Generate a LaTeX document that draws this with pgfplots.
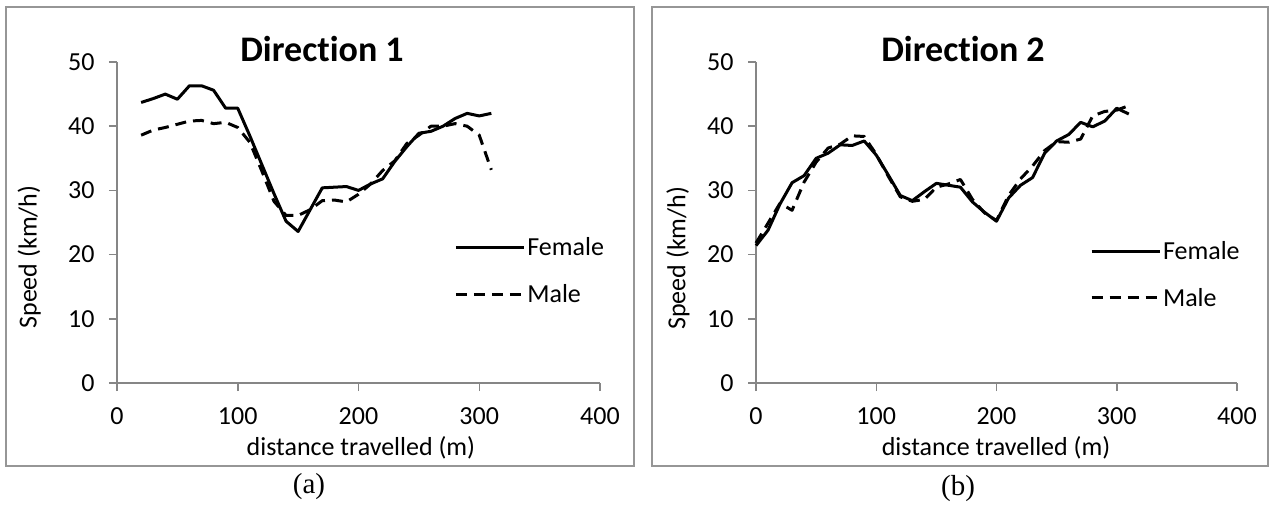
\documentclass[border=0pt]{standalone}
\usepackage{fontspec}
\setmainfont{Carlito}[Ligatures=CommonOff]
\newfontfamily\capfont{Liberation Serif}
\usepackage{pgfplots}
\pgfplotsset{compat=1.18}

\definecolor{axgray}{RGB}{134,134,134}
\definecolor{framegray}{RGB}{150,150,150}

\newcommand\chartfont{\fontsize{26}{31}\selectfont}

\pgfplotsset{speedaxis/.style={
    scale only axis, height=321pt,
    xmin=0, xmax=400, ymin=0, ymax=50,
    axis x line=bottom, axis y line=left,
    axis line style={-, axgray, line width=1.5pt},
    xtick={0,100,...,400}, ytick={0,10,...,50},
    tick align=outside, major tick length=8pt,
    tick style={axgray, line width=1.5pt},
    tick label style={font=\chartfont, black},
    xticklabel={\chartfont\pgfmathprintnumber{\tick}},
    yticklabel={\chartfont\pgfmathprintnumber{\tick}},
    xticklabel style={yshift=-13pt},
    yticklabel style={xshift=-11pt},
    /pgf/number format/assume math mode=true,
    label style={font=\chartfont},
    xlabel={distance travelled (m)},
    ylabel={Speed (km/h)},
    legend style={draw=none, fill=none, font=\chartfont,
      anchor=west, row sep=23pt, inner sep=0pt},
    legend cell align=left,
    legend image code/.code={\draw[#1] (0pt,0pt) -- (68pt,0pt);},
    clip=false,
  },
  fem/.style={black, line width=3pt, line join=round, no markers},
  mal/.style={black, line width=3pt, line join=round, no markers, dash pattern=on 11pt off 7pt},
}

\begin{document}
\begin{tikzpicture}
% panel frames
\draw[framegray, line width=2pt] (6pt,497pt) rectangle (634pt,38pt);
\draw[framegray, line width=2pt] (652pt,497pt) rectangle (1268pt,38pt);

% Direction 1
\begin{axis}[speedaxis, width=483pt, at={(117pt,121pt)}, anchor=south west,
    xlabel style={at={(axis description cs:0.505,-0.2025)}, anchor=center},
    ylabel style={at={(axis description cs:-0.182,0.3925)}, anchor=center},
    legend style={at={(0.698,0.349)}}]
  \addplot[fem] coordinates {
    (20,43.7) (30,44.3) (40,45.0) (50,44.2) (60,46.3) (70,46.3) (80,45.6)
    (90,42.8) (100,42.8) (110,38.5) (120,34.0) (130,29.5) (140,25.2) (150,23.6)
    (160,27.0) (170,30.4) (180,30.5) (190,30.6) (200,30.0) (210,31.0) (220,31.8)
    (230,34.5) (240,36.8) (250,38.9) (260,39.2) (270,40.0) (280,41.2) (290,42.0)
    (300,41.6) (310,42.0)};
  \addlegendentry{Female}
  \addplot[mal] coordinates {
    (20,38.6) (30,39.4) (40,39.8) (50,40.3) (60,40.8) (70,40.9) (80,40.4)
    (90,40.6) (100,39.8) (110,37.5) (120,33.0) (130,28.3) (140,26.1) (150,26.1)
    (160,27.0) (170,28.4) (180,28.5) (190,28.2) (200,29.4) (210,31.0) (220,33.1)
    (230,34.6) (240,37.3) (250,38.6) (260,40.0) (270,40.0) (280,40.4) (290,40.0)
    (300,38.6) (310,33.2)};
  \addlegendentry{Male}
\end{axis}

% Direction 2
\begin{axis}[speedaxis, width=481pt, at={(756pt,121pt)}, anchor=south west,
    xlabel style={at={(axis description cs:0.499,-0.2025)}, anchor=center},
    ylabel style={at={(axis description cs:-0.162,0.3885)}, anchor=center},
    legend style={at={(0.694,0.338)}}]
  \addplot[fem] coordinates {
    (0,21.4) (10,23.8) (20,27.9) (30,31.2) (40,32.3) (50,35.0) (60,35.8)
    (70,37.1) (80,37.0) (90,37.7) (100,35.5) (110,32.4) (120,29.2) (130,28.4)
    (140,29.8) (150,31.1) (160,30.8) (170,30.5) (180,28.2) (190,26.6) (200,25.2)
    (210,28.8) (220,30.8) (230,32.0) (240,35.8) (250,37.7) (260,38.7) (270,40.6)
    (280,39.9) (290,40.8) (300,42.8) (310,41.9)};
  \addlegendentry{Female}
  \addplot[mal] coordinates {
    (0,21.8) (10,24.9) (20,28.0) (30,26.9) (40,31.3) (50,34.4) (60,36.6)
    (70,37.2) (80,38.5) (90,38.4) (100,35.6) (110,32.2) (120,29.0) (130,28.3)
    (140,28.6) (150,30.5) (160,31.0) (170,31.7) (180,28.6) (190,26.5) (200,25.3)
    (210,29.2) (220,31.8) (230,33.8) (240,36.2) (250,37.6) (260,37.5) (270,38.0)
    (280,41.6) (290,42.3) (300,42.5) (310,43.2)};
  \addlegendentry{Male}
\end{axis}

% titles and captions
\node[font=\bfseries\fontsize{36}{43}\selectfont, anchor=base] at (322pt,442pt) {Direction 1};
\node[font=\bfseries\fontsize{36}{43}\selectfont, anchor=base] at (963pt,442pt) {Direction 2};
\node[font=\capfont\fontsize{29}{34}\selectfont] at (309pt,17pt) {(a)};
\node[font=\capfont\fontsize{29}{34}\selectfont] at (958pt,15pt) {(b)};

\pgfresetboundingbox
\useasboundingbox (0pt,0pt) rectangle (1271pt,504pt);
\end{tikzpicture}
\end{document}
